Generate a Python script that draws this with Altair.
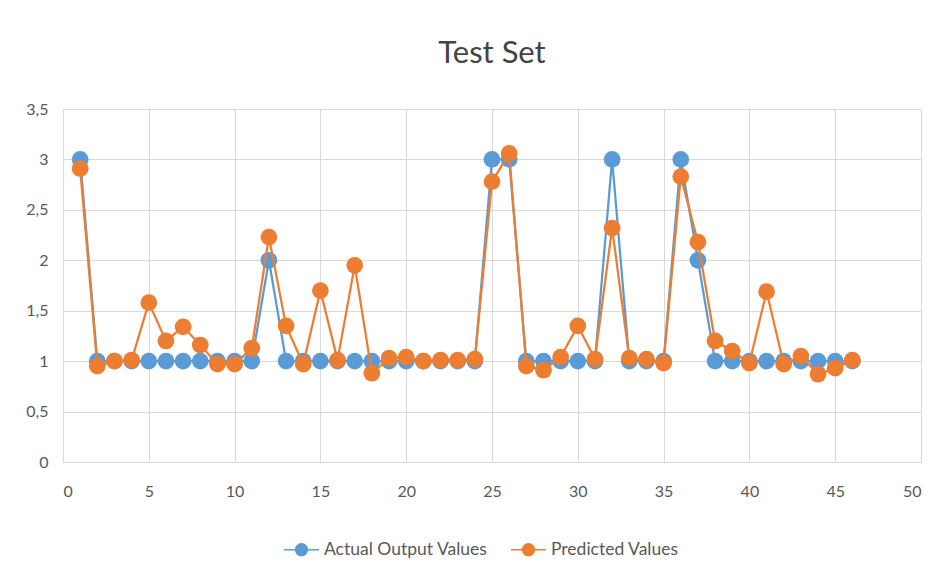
import altair as alt
import pandas as pd

x_vals = list(range(1, 47))
actual = [3, 1, 1, 1, 1, 1, 1, 1, 1, 1,
          1, 2, 1, 1, 1, 1, 1, 1, 1, 1,
          1, 1, 1, 1, 3, 3, 1, 1, 1, 1,
          1, 3, 1, 1, 1, 3, 2, 1, 1, 1,
          1, 1, 1, 1, 1, 1]
predicted = [2.91, 0.95, 1.0, 1.01, 1.58, 1.2, 1.34, 1.16, 0.97, 0.97,
             1.13, 2.23, 1.35, 0.97, 1.7, 1.01, 1.95, 0.88, 1.03, 1.04,
             1.0, 1.01, 1.01, 1.02, 2.78, 3.06, 0.95, 0.91, 1.04, 1.35,
             1.02, 2.32, 1.03, 1.02, 0.98, 2.83, 2.18, 1.2, 1.1, 0.98,
             1.69, 0.97, 1.05, 0.87, 0.93, 1.01]
series_names = ["Actual Output Values", "Predicted Values"]
series_colors = ["#5B9BD5", "#ED7D31"]

rows = []
for name, vals in zip(series_names, [actual, predicted]):
    for xv, yv in zip(x_vals, vals):
        rows.append({"x": xv, "value": yv, "series": name})
df = pd.DataFrame(rows)

FONT = "Lato"
TXT = "#595959"

color = alt.Color(
    "series:N",
    scale=alt.Scale(domain=series_names, range=series_colors),
    sort=series_names,
    legend=alt.Legend(
        title=None, orient="none", direction="horizontal",
        legendX=220, legendY=422,
        symbolType="M-1,0L-0.34,0 M0.34,0L1,0 M0.34,0A0.34,0.34 0 1,1 -0.34,0A0.34,0.34 0 1,1 0.34,0",
        symbolSize=1225, symbolStrokeWidth=1.5,
        labelFont=FONT, labelFontSize=17.5, labelColor=TXT, labelLimit=400,
        columnPadding=20, labelOffset=4,
    ),
)

xenc = alt.X("x:Q", scale=alt.Scale(domain=[0, 50], nice=False),
             axis=alt.Axis(values=list(range(0, 51, 5)), title=None,
                           labelPadding=21))
yenc = alt.Y("value:Q", scale=alt.Scale(domain=[0, 3.5], nice=False),
             axis=alt.Axis(values=[0, 0.5, 1, 1.5, 2, 2.5, 3, 3.5], title=None,
                           labelPadding=15,
                           labelExpr="replace(format(datum.value, '~g'), '.', ',')"))

layers = []
for name in series_names:
    base = alt.Chart(df).transform_filter(alt.datum.series == name)
    layers.append(base.mark_line(strokeWidth=2.25).encode(x=xenc, y=yenc, color=color))
    layers.append(base.mark_point(filled=True, size=280, opacity=1).encode(
        x=xenc, y=yenc, color=color,
        fill=alt.Fill("series:N", scale=alt.Scale(domain=series_names, range=series_colors), legend=None)))

chart = alt.layer(*layers).properties(
    width=858, height=353,
    title=alt.Title("Test Set", font=FONT, fontSize=31, fontWeight="normal",
                    color="#444444", offset=31, anchor="middle"),
    autosize=alt.AutoSizeParams(type="none"),
    padding={"left": 55, "top": 101, "right": 13, "bottom": 105},
).configure_view(stroke=None).configure_axis(
    grid=True, gridColor="#d9d9d9", gridWidth=1, domain=False, ticks=False,
    labelFont=FONT, labelFontSize=16, labelColor=TXT,
).configure_axisX(domain=True, domainColor="#d9d9d9")

chart.save("out.html", embed_options={"renderer": "svg", "actions": False})
